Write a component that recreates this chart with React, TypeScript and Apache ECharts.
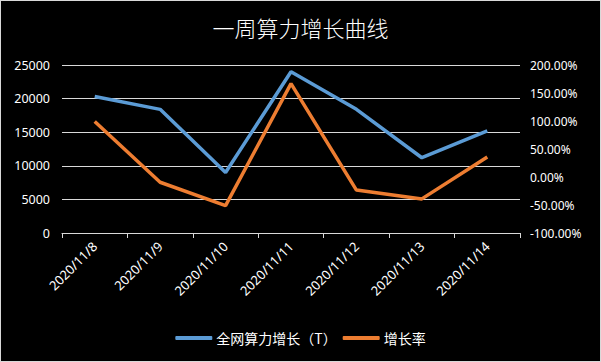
import React, { useEffect, useRef } from "react";
import * as echarts from "echarts";

const categories = ["2020/11/8", "2020/11/9", "2020/11/10", "2020/11/11", "2020/11/12", "2020/11/13", "2020/11/14"];
const hashrate = [20300, 18400, 9000, 24000, 18400, 11200, 15200];
const growthRate = [99, -9.4, -51, 166.7, -23.3, -39.1, 35.7];
const seriesNames = ["全网算力增长（T）", "增长率"];
const titleText = "一周算力增长曲线";

export default function App() {
  const ref = useRef<HTMLDivElement>(null);
  useEffect(() => {
    document.body.style.margin = "0";
    const chart = echarts.init(ref.current!, null, { renderer: "svg" });
    const font = "'Noto Sans', 'Noto Sans CJK SC', sans-serif";
    chart.setOption({
      animation: false,
      backgroundColor: "#000",
      title: {
        text: titleText,
        left: "center",
        top: 10,
        textStyle: { color: "#fff", fontSize: 22, fontWeight: 300, fontFamily: "'Noto Sans CJK SC', sans-serif" },
      },
      legend: {
        left: "center",
        top: 325,
        icon: "roundRect",
        itemWidth: 37,
        itemHeight: 4,
        itemGap: 6,
        textStyle: { color: "#fff", fontSize: 14, fontFamily: "'Noto Sans CJK SC', sans-serif", padding: [0, 0, 0, -1] },
        data: seriesNames,
      },
      grid: { left: 61, right: 80, top: 64, bottom: 128, containLabel: false },
      xAxis: {
        type: "category",
        data: categories,
        boundaryGap: true,
        axisLine: { lineStyle: { color: "#d9d9d9", width: 1 } },
        axisTick: { show: true, length: 5, lineStyle: { color: "#d9d9d9" } },
        axisLabel: { color: "#fff", rotate: 45, fontSize: 13, fontFamily: font, margin: 11, interval: 0 },
      },
      yAxis: [
        {
          type: "value",
          min: 0,
          max: 25000,
          interval: 5000,
          axisLine: { show: false },
          axisTick: { show: false },
          axisLabel: { color: "#fff", fontSize: 12.5, fontFamily: font, margin: 12, formatter: (v: number) => String(v) },
          splitLine: { lineStyle: { color: "#d9d9d9", width: 1 } },
        },
        {
          type: "value",
          min: -100,
          max: 200,
          interval: 50,
          position: "right",
          axisLine: { show: false },
          axisTick: { show: false },
          axisLabel: { color: "#fff", fontSize: 12, fontFamily: font, margin: 10, formatter: (v: number) => v.toFixed(2) + "%" },
          splitLine: { show: false },
        },
      ],
      series: [
        {
          name: seriesNames[0],
          type: "line",
          data: hashrate,
          yAxisIndex: 0,
          symbol: "none",
          lineStyle: { color: "#5B9BD5", width: 3.5 },
          itemStyle: { color: "#5B9BD5" },
        },
        {
          name: seriesNames[1],
          type: "line",
          data: growthRate,
          yAxisIndex: 1,
          symbol: "none",
          lineStyle: { color: "#ED7D31", width: 3.5 },
          itemStyle: { color: "#ED7D31" },
        },
      ],
    });
    return () => chart.dispose();
  }, []);
  return (
    <div
      style={{
        position: "absolute",
        left: 0,
        top: 0,
        width: 601,
        height: 362,
        boxSizing: "border-box",
        border: "1px solid #d9d9d9",
        background: "#000",
      }}
    >
      <div ref={ref} style={{ width: 599, height: 360 }} />
    </div>
  );
}
